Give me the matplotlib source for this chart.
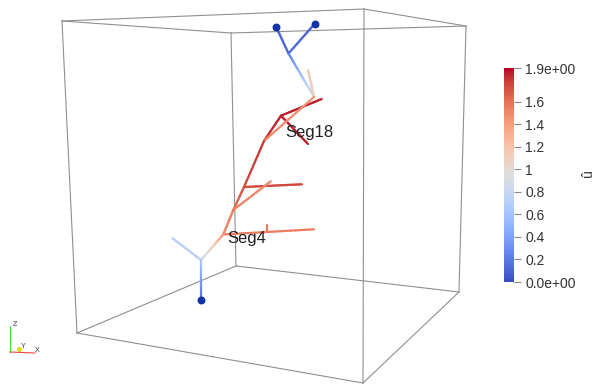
import numpy as np
import matplotlib
import matplotlib.pyplot as plt
from matplotlib.collections import LineCollection

plt.rcParams['font.family'] = ['Liberation Sans', 'DejaVu Sans']

# -------------------- DATA --------------------
# bounding box corners (screen projection, pixels)
box_x = [62, 364, 466, 231, 77, 363, 459, 236]
box_y = [21, 9, 26, 33, 333, 383, 292, 266]
box_edges = [(0, 1), (1, 2), (2, 3), (3, 0), (4, 5), (5, 6), (6, 7), (7, 4),
             (0, 4), (1, 5), (2, 6), (3, 7)]

# tree nodes (screen projection, pixels)
node_x = [276, 314.5, 288.5, 314, 308, 321.7, 281, 308, 264, 244, 302, 233.3,
          270.7, 223.3, 314, 267, 267, 201, 172.5, 201]
node_y = [26.5, 24, 53.5, 97, 70, 99, 115.7, 144, 141, 187, 184.3, 210,
          181.3, 234.5, 229.3, 231.8, 225.3, 260, 238.3, 299.5]

# edges: start node, end node, value at start, value at end
edge_a = [0, 1, 2, 4, 5, 6, 6, 3, 8, 9, 9, 11, 11, 13, 15, 13, 17, 17]
edge_b = [2, 2, 3, 3, 6, 7, 8, 8, 9, 10, 11, 12, 13, 14, 16, 17, 18, 19]
edge_v0 = [0.1, 0.1, 0.2, 1.15, 1.85, 1.85, 1.85, 1.45, 1.8, 1.75, 1.7, 1.5,
           1.55, 1.55, 1.55, 1.45, 0.72, 0.65]
edge_v1 = [0.15, 0.15, 0.9, 1.1, 1.85, 1.85, 1.8, 1.5, 1.75, 1.75, 1.6, 1.5,
           1.5, 1.55, 1.55, 0.8, 0.72, 0.15]

tip_nodes = [0, 1, 19]

labels = ["Seg18", "Seg4"]
label_x = [309.5, 247]
label_y = [132, 238]

vmin, vmax = 0.0, 1.9
cbar_ticks = [0.0, 0.2, 0.4, 0.6, 0.8, 1.0, 1.2, 1.4, 1.6, 1.9]
cbar_labels = ["0.0e+00", "0.2", "0.4", "0.6", "0.8", "1", "1.2", "1.4", "1.6", "1.9e+00"]

# -------------------- FIGURE --------------------
fig = plt.figure(figsize=(5.97, 3.84), dpi=100)
ax = fig.add_axes([0, 0, 1, 1])
ax.set_xlim(0, 597)
ax.set_ylim(384, 0)
ax.axis('off')

# box
for i, j in box_edges:
    ax.plot([box_x[i], box_x[j]], [box_y[i], box_y[j]], color='#8f8f8f', lw=0.8, zorder=1)

# tree with gradient coloring
cmap = matplotlib.colormaps['coolwarm']
norm = plt.Normalize(vmin, vmax)
segs, vals = [], []
for a, b, v0, v1 in zip(edge_a, edge_b, edge_v0, edge_v1):
    t = np.linspace(0, 1, 21)
    xs = node_x[a] + (node_x[b] - node_x[a]) * t
    ys = node_y[a] + (node_y[b] - node_y[a]) * t
    vs = v0 + (v1 - v0) * (t[:-1] + t[1:]) / 2
    for k in range(20):
        segs.append([(xs[k], ys[k]), (xs[k + 1], ys[k + 1])])
        vals.append(vs[k])
lc = LineCollection(segs, cmap=cmap, norm=norm, linewidths=1.6, capstyle='round', zorder=3)
lc.set_array(np.array(vals))
ax.add_collection(lc)

ax.scatter([node_x[i] for i in tip_nodes], [node_y[i] for i in tip_nodes],
           s=22, color='#1233a8', zorder=4)

for s, x, y in zip(labels, label_x, label_y):
    ax.text(x, y, s, fontsize=12, color='#222222', ha='center', va='center', zorder=5)

# orientation triad
ax.plot([10, 10], [352, 326], color='#44dd44', lw=0.8)
ax.plot([10, 35], [352, 353], color='#ee4444', lw=0.8)
ax.scatter([19], [349], s=6, color='#dddd00')
ax.text(13, 325, "Z", fontsize=5, color='#333333', va='center')
ax.text(35, 351, "X", fontsize=5, color='#333333', va='center')
ax.text(21, 346, "Y", fontsize=5, color='#333333', va='center')

# -------------------- COLORBAR --------------------
cax = fig.add_axes([504 / 597, 1 - 282 / 384, 10 / 597, 214 / 384])
sm = plt.cm.ScalarMappable(norm=norm, cmap=cmap)
cb = fig.colorbar(sm, cax=cax)
cb.outline.set_visible(False)
cb.set_ticks(cbar_ticks)
cb.set_ticklabels(cbar_labels)
cax.tick_params(length=5, width=0.8, color='#888888', labelsize=10, labelcolor='#333333', pad=3)
fig.text(588 / 597, 1 - 173 / 384, "û", rotation=90, fontsize=10, color='#333333',
         ha='center', va='center')

fig.savefig("out.png", dpi=100)
